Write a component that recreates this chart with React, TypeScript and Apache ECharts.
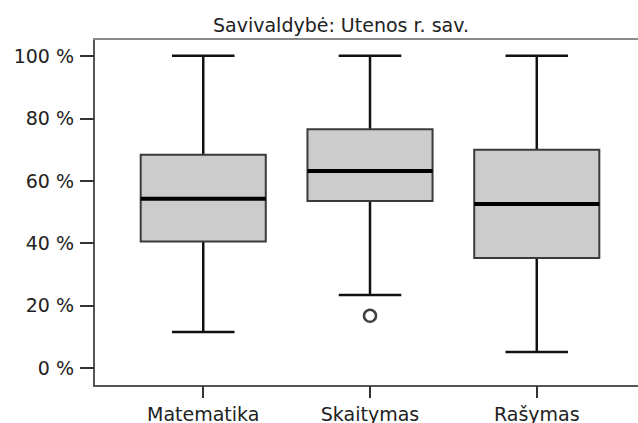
import React, { useEffect, useRef } from "react";
import * as echarts from "echarts";

const titleText = "Savivaldybė: Utenos r. sav.";
const categories = ["Matematika", "Skaitymas", "Rašymas"];
const mins = [11.5, 23.4, 5.1];
const q1s = [40.5, 53.5, 35.2];
const medians = [54.2, 63.1, 52.5];
const q3s = [68.3, 76.5, 69.9];
const maxs = [100, 100, 100];
const outliers: [number, number][] = [[2, 16.7]];
const yTicks = [0, 20, 40, 60, 80, 100];

const FONT = "'DejaVu Sans', sans-serif";
const X_MIN = 0.345;
const X_MAX = 3.8;
const UNIT_PX = 166.77;

export default function App() {
  const ref = useRef<HTMLDivElement>(null);
  useEffect(() => {
    if (!ref.current) return;
    const chart = echarts.init(ref.current, undefined, { renderer: "svg" });
    const boxData = categories.map((_, i) => [i + 1, mins[i], q1s[i], medians[i], q3s[i], maxs[i]]);
    const xPositions = categories.map((_, i) => i + 1);
    chart.setOption({
      animation: false,
      backgroundColor: "#ffffff",
      title: {
        text: titleText,
        left: 336,
        top: 10,
        textAlign: "center",
        textStyle: { fontFamily: FONT, fontSize: 19, fontWeight: "normal", color: "#222" },
      },
      grid: {
        left: 94,
        top: 39,
        width: (X_MAX - X_MIN) * UNIT_PX,
        height: 347,
        show: false,
        containLabel: false,
        outerBoundsMode: "none",
      },
      xAxis: [
        {
          type: "value",
          min: X_MIN,
          max: X_MAX,
          splitLine: { show: false },
          axisLine: { show: true, onZero: false, lineStyle: { color: "#555", width: 2 } },
          axisTick: { show: true, customValues: xPositions, length: 12, lineStyle: { color: "#333", width: 2 } },
          axisLabel: {
            customValues: xPositions,
            margin: 18,
            formatter: (v: number) => categories[Math.round(v) - 1] ?? "",
            fontFamily: FONT,
            fontSize: 19,
            color: "#222",
          },
        },
        {
          type: "value",
          position: "top",
          min: X_MIN,
          max: X_MAX,
          splitLine: { show: false },
          axisLine: { show: true, onZero: false, lineStyle: { color: "#8a8a8a", width: 2 } },
          axisTick: { show: false },
          axisLabel: { show: false },
        },
      ],
      yAxis: {
        type: "value",
        min: -5.8,
        max: 105.4,
        splitLine: { show: false },
        axisLine: { show: true, onZero: false, lineStyle: { color: "#555", width: 2 } },
        axisTick: { show: true, customValues: yTicks, length: 14, lineStyle: { color: "#333", width: 2 } },
        axisLabel: {
          customValues: yTicks,
          margin: 20,
          formatter: (v: number) => `${v} %`,
          fontFamily: FONT,
          fontSize: 19,
          color: "#222",
        },
      },
      series: [
        {
          type: "custom",
          xAxisIndex: 0,
          data: boxData,
          encode: { x: 0, y: [1, 2, 3, 4, 5] },
          renderItem: (params: any, api: any) => {
            const x = api.value(0);
            const lo = api.coord([x, api.value(1)]);
            const q1 = api.coord([x, api.value(2)]);
            const med = api.coord([x, api.value(3)]);
            const q3 = api.coord([x, api.value(4)]);
            const hi = api.coord([x, api.value(5)]);
            const unit = api.size([1, 0])[0];
            const bw = unit * 0.75;
            const cw = unit * 0.375;
            const cx = q1[0];
            const lineStyle = { stroke: "#111", lineWidth: 2.5 };
            return {
              type: "group",
              children: [
                { type: "line", shape: { x1: cx, y1: q3[1], x2: cx, y2: hi[1] }, style: lineStyle },
                { type: "line", shape: { x1: cx, y1: q1[1], x2: cx, y2: lo[1] }, style: lineStyle },
                { type: "line", shape: { x1: cx - cw / 2, y1: hi[1], x2: cx + cw / 2, y2: hi[1] }, style: lineStyle },
                { type: "line", shape: { x1: cx - cw / 2, y1: lo[1], x2: cx + cw / 2, y2: lo[1] }, style: lineStyle },
                {
                  type: "rect",
                  shape: { x: cx - bw / 2, y: q3[1], width: bw, height: q1[1] - q3[1] },
                  style: { fill: "#cccccc", stroke: "#3a3a3a", lineWidth: 2 },
                },
                {
                  type: "line",
                  shape: { x1: cx - bw / 2, y1: med[1], x2: cx + bw / 2, y2: med[1] },
                  style: { stroke: "#000", lineWidth: 4 },
                },
              ],
            };
          },
        },
        {
          type: "scatter",
          xAxisIndex: 0,
          data: outliers,
          symbol: "circle",
          symbolSize: 12,
          itemStyle: { color: "#ffffff", borderColor: "#111", borderWidth: 2.5 },
        },
      ],
    });
    return () => chart.dispose();
  }, []);
  return <div ref={ref} style={{ position: "fixed", left: 0, top: 0, width: 638, height: 423 }} />;
}
